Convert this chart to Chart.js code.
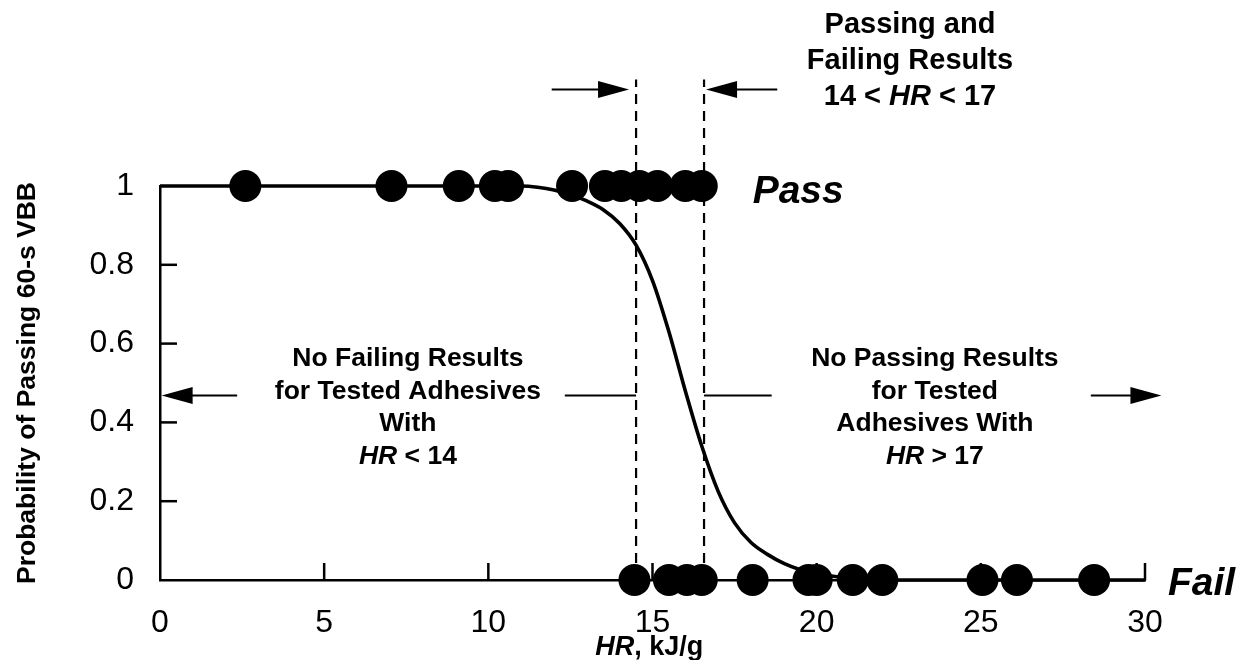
<!DOCTYPE html>
<html>
<head>
<meta charset="utf-8">
<title>Probability of Passing 60-s VBB</title>
<script src="https://cdn.jsdelivr.net/npm/chart.js@4/dist/chart.umd.min.js"></script>
<style>
  html, body { margin: 0; padding: 0; background: #fff; }
  canvas { display: block; }
</style>
</head>
<body>
<canvas id="vbb-chart" width="1241" height="660"></canvas>
<script>
// Heat release HR (kJ/g) of the adhesives that passed / failed the 60-s VBB
const passHR = [2.6, 7.05, 9.1, 10.2, 10.6, 12.55, 13.55, 14.05, 14.6, 15.15, 16.0, 16.5];
const failHR = [14.45, 15.5, 16.05, 16.5, 18.05, 19.75, 20.0, 21.1, 22.0, 25.05, 26.1, 28.45];

// fitted probability curve
const curveHR = [0, 10, 11, 11.5, 12, 12.5, 13, 13.5, 14, 14.5, 15, 15.5, 16, 16.5, 17, 17.5, 18, 18.5, 19, 19.5, 20, 21, 22, 30];
const curveP  = [1, 1, 1, 0.997, 0.99, 0.978, 0.962, 0.94, 0.905, 0.85, 0.76, 0.63, 0.48, 0.34, 0.225, 0.145, 0.095, 0.065, 0.042, 0.026, 0.015, 0.005, 0, 0];

const xTicks = [0, 5, 10, 15, 20, 25, 30];
const yTicks = [0, 0.2, 0.4, 0.6, 0.8, 1];

// range where both results occur
const bracketHR = [14.5, 16.57];

const FONT = '"Liberation Sans", Arial, Helvetica, sans-serif';

function textRuns(ctx, runs, x, y, size, align) {
  const fonts = runs.map(r => (r[1] ? 'italic ' : '') + 'bold ' + size + 'px ' + FONT);
  const widths = runs.map((r, i) => { ctx.font = fonts[i]; return ctx.measureText(r[0]).width; });
  const total = widths.reduce((a, b) => a + b, 0);
  let cx = align === 'left' ? x : x - total / 2;
  ctx.textAlign = 'left';
  ctx.textBaseline = 'middle';
  runs.forEach((r, i) => {
    ctx.font = fonts[i];
    ctx.fillText(r[0], cx, y);
    cx += widths[i];
  });
}

function arrowHead(ctx, tipX, y, dir) {
  ctx.beginPath();
  ctx.moveTo(tipX, y);
  ctx.lineTo(tipX - dir * 31, y - 8.5);
  ctx.lineTo(tipX - dir * 31, y + 8.5);
  ctx.closePath();
  ctx.fill();
}

function hLine(ctx, x1, x2, y) {
  ctx.beginPath();
  ctx.moveTo(x1, y);
  ctx.lineTo(x2, y);
  ctx.stroke();
}

const annotations = {
  id: 'annotations',
  afterDraw(chart) {
    const ctx = chart.ctx;
    const sx = chart.scales.x, sy = chart.scales.y;
    const px = v => sx.getPixelForValue(v);
    const py = v => sy.getPixelForValue(v);
    ctx.save();
    ctx.strokeStyle = '#000';
    ctx.fillStyle = '#000';
    ctx.lineWidth = 2.5;

    // inward tick marks
    yTicks.filter(v => v > 0 && v < 1).forEach(v => hLine(ctx, px(0), px(0) + 17, py(v)));
    xTicks.filter(v => v > 0).forEach(v => {
      ctx.beginPath();
      ctx.moveTo(px(v), py(0));
      ctx.lineTo(px(v), py(0) - 17);
      ctx.stroke();
    });

    // dashed bounds of the mixed region
    ctx.lineWidth = 2.2;
    ctx.setLineDash([10, 7]);
    bracketHR.forEach(v => {
      ctx.beginPath();
      ctx.moveTo(px(v), py(0));
      ctx.lineTo(px(v), py(1.27));
      ctx.stroke();
    });
    ctx.setLineDash([]);

    // arrows
    ctx.lineWidth = 2;
    const yTop = py(1.245);
    hLine(ctx, px(11.93), px(bracketHR[0]) - 25, yTop);
    arrowHead(ctx, px(bracketHR[0]) - 7, yTop, 1);
    hLine(ctx, px(bracketHR[1]) + 25, px(18.8), yTop);
    arrowHead(ctx, px(bracketHR[1]) + 2, yTop, -1);

    const yMid = py(0.468);
    hLine(ctx, px(0.3), px(2.35), yMid);
    arrowHead(ctx, px(0.05), yMid, -1);
    hLine(ctx, px(12.33), px(bracketHR[0]), yMid);
    hLine(ctx, px(bracketHR[1]), px(18.63), yMid);
    hLine(ctx, px(28.35), px(30.2), yMid);
    arrowHead(ctx, px(30.5), yMid, 1);

    // labels
    textRuns(ctx, [['Passing and']], 910, 25, 29);
    textRuns(ctx, [['Failing Results']], 910, 61, 29);
    textRuns(ctx, [['14 < '], ['HR', true], [' < 17']], 910, 97, 29);

    const leftLines = [[['No Failing Results']], [['for Tested Adhesives']], [['With']], [['HR', true], [' < 14']]];
    const rightLines = [[['No Passing Results']], [['for Tested']], [['Adhesives With']], [['HR', true], [' > 17']]];
    leftLines.forEach((l, i) => textRuns(ctx, l, px(7.55), 359 + i * 32.5, 26.5));
    rightLines.forEach((l, i) => textRuns(ctx, l, px(23.6), 359 + i * 32.5, 26.5));

    textRuns(ctx, [['Pass', true]], px(18.05), py(0.985), 39, 'left');
    textRuns(ctx, [['Fail', true]], px(30.7), py(-0.01), 39, 'left');

    textRuns(ctx, [['HR', true], [', kJ/g']], px(14.9), 648, 27);
    ctx.restore();
  }
};

const canvas = document.getElementById('vbb-chart');

const vbbChart = new Chart(canvas, {
  type: 'scatter',
  data: {
    datasets: [
      {
        label: 'Fit',
        type: 'line',
        data: curveHR.map((x, i) => ({ x: x, y: curveP[i] })),
        borderColor: '#000',
        borderWidth: 3.6,
        pointRadius: 0,
        cubicInterpolationMode: 'monotone',
        fill: false,
        clip: false
      },
      {
        label: 'Pass',
        data: passHR.map(x => ({ x: x, y: 1 })),
        pointRadius: 16,
        backgroundColor: '#000',
        borderWidth: 0,
        clip: false
      },
      {
        label: 'Fail',
        data: failHR.map(x => ({ x: x, y: 0 })),
        pointRadius: 16,
        backgroundColor: '#000',
        borderWidth: 0,
        clip: false
      }
    ]
  },
  options: {
    responsive: false,
    animation: false,
    events: [],
    layout: { padding: { top: 186, right: 96, left: 0, bottom: 0 } },
    plugins: {
      legend: { display: false },
      tooltip: { enabled: false }
    },
    scales: {
      x: {
        type: 'linear',
        min: 0,
        max: 30,
        afterBuildTicks: s => { s.ticks = xTicks.map(v => ({ value: v })); },
        afterFit: s => { s.height = 80; },
        grid: { display: false, drawTicks: false },
        border: { color: '#000', width: 2.5 },
        ticks: {
          color: '#000',
          font: { family: FONT, size: 32 },
          padding: 24,
          maxRotation: 0,
          callback: v => String(v)
        }
      },
      y: {
        min: 0,
        max: 1,
        afterBuildTicks: s => { s.ticks = yTicks.map(v => ({ value: v })); },
        afterFit: s => { s.width = 160; },
        grid: { display: false, drawTicks: false },
        border: { color: '#000', width: 2.5 },
        ticks: {
          color: '#000',
          font: { family: FONT, size: 32 },
          padding: 26,
          callback: v => String(v)
        },
        title: {
          display: true,
          text: 'Probability of Passing 60-s VBB',
          color: '#000',
          font: { family: FONT, size: 26.5, weight: 'bold' },
          padding: { top: 12, bottom: 0 }
        }
      }
    }
  },
  plugins: [annotations]
});
</script>
</body>
</html>
